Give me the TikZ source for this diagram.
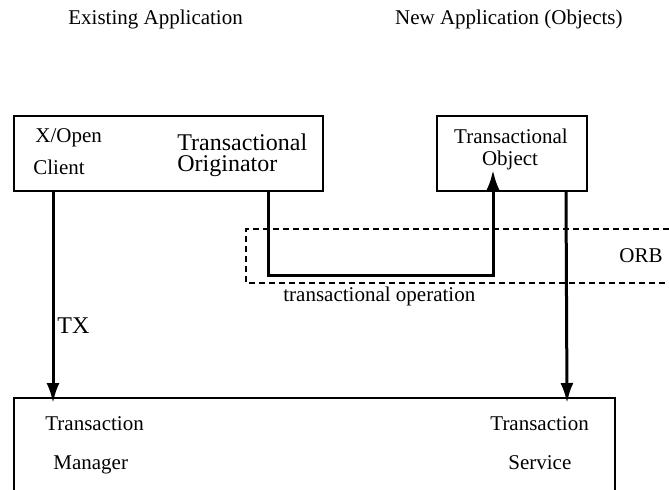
\documentclass[tikz,border=0pt]{standalone}
\usepackage{fontspec}
\setmainfont{Liberation Serif}
\usetikzlibrary{arrows.meta}
\begin{document}
\begin{tikzpicture}[x=0.5pt,y=-0.5pt,
	box/.style={draw, line width=1pt, anchor=north west, inner sep=0pt},
	txt/.style={inner sep=0pt, anchor=base west, font=\fontsize{10.5pt}{12pt}\selectfont},
	big/.style={txt, font=\fontsize{12pt}{14pt}\selectfont},
	flow/.style={line width=1.5pt, -{Latex[length=10pt,width=6.5pt]}}]
	\useasboundingbox (0,0) rectangle (669,489);
	\node[txt] (existing) at (68,24) {Existing Application};
	\node[txt, anchor=base east] (newapp) at (623,24) {New Application (Objects)};
	% boxes
	\node[box, minimum width=154.5pt, minimum height=37.5pt] (client) at (13,115) {};
	\node[box, minimum width=75pt, minimum height=37.5pt] (object) at (436,115) {};
	\node[box, minimum width=300.5pt, minimum height=70pt] (tm) at (13,397) {};
	\node[txt] (xopen) at (35,142) {X/Open};
	\node[txt] (clientlbl) at (33,174) {Client};
	\node[big] (orig1) at (177,150) {Transactional};
	\node[big] (orig2) at (177,171) {Originator};
	\node[txt, anchor=base] (obj1) at (511,143) {Transactional};
	\node[txt, anchor=base] (obj2) at (510,165) {Object};
	\node[txt] (mgr1) at (45,430) {Transaction};
	\node[txt] (mgr2) at (53,469) {Manager};
	\node[txt] (srv1) at (490,430) {Transaction};
	\node[txt] (srv2) at (508,469) {Service};
	% ORB
	\draw[line width=0.6pt, dash pattern=on 3pt off 2pt] (669,229) -| (246,283) -- (669,283);
	\node[txt] (orb) at (619,262) {ORB};
	\node[txt] (op) at (283,301) {transactional operation};
	\node[big] (tx) at (57,333) {TX};
	% connectors
	\draw[flow] ([xshift=20pt]client.south west) -- ([xshift=20pt,yshift=-3pt]tm.north west);
	\draw[flow] ([xshift=65pt]object.south west) -- ([xshift=277pt,yshift=-3pt]tm.north west);
	\draw[flow] ([xshift=127.5pt]client.south west) |- ([xshift=28.5pt,yshift=-41.5pt]object.south west) -- ([xshift=28.5pt,yshift=11pt]object.south west);
\end{tikzpicture}
\end{document}
